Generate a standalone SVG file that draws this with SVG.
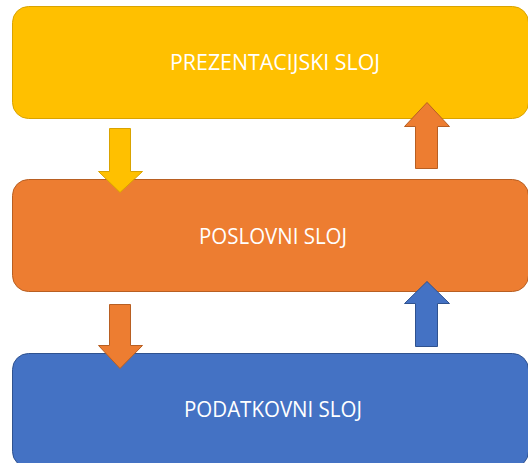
<svg xmlns="http://www.w3.org/2000/svg" width="528" height="463" viewBox="0 0 528 463">
<style>
.box{stroke-width:1}
.lbl{font-family:"Open Sans","Liberation Sans",sans-serif;font-size:21px;fill:#ffffff;text-anchor:middle}
.y{fill:#FFC000;stroke:#D9A300}
.o{fill:#ED7D31;stroke:#B85F22}
.b{fill:#4472C4;stroke:#2F528F}
</style>
<rect width="528" height="463" fill="#ffffff"/>
<g id="prezentacijski">
<rect class="box y" x="12.5" y="6.5" width="516" height="112" rx="16"/>
<text class="lbl" x="275" y="70" textLength="210" lengthAdjust="spacingAndGlyphs">PREZENTACIJSKI SLOJ</text>
</g>
<g id="poslovni">
<rect class="box o" x="12.5" y="179.5" width="516" height="112" rx="16"/>
<text class="lbl" x="273" y="244" textLength="148" lengthAdjust="spacingAndGlyphs">POSLOVNI SLOJ</text>
</g>
<g id="podatkovni">
<rect class="box b" x="12.5" y="353.5" width="516" height="114" rx="16"/>
<text class="lbl" x="273" y="417" textLength="178" lengthAdjust="spacingAndGlyphs">PODATKOVNI SLOJ</text>
</g>
<g id="connectors">
<polygon class="y" points="109.5,128.5 130.5,128.5 130.5,171.5 142.5,171.5 120,192.5 98.5,171.5 109.5,171.5"/>
<polygon class="o" points="415.5,168.5 437.5,168.5 437.5,126.5 449.5,126.5 427,102.5 404.5,126.5 415.5,126.5"/>
<polygon class="o" points="109.5,304.5 130.5,304.5 130.5,345.5 142.5,345.5 120,368.5 98.5,345.5 109.5,345.5"/>
<polygon class="b" points="415.5,346.5 437.5,346.5 437.5,303.5 449.5,303.5 427,281.5 404.5,303.5 415.5,303.5"/>
</g>
</svg>
